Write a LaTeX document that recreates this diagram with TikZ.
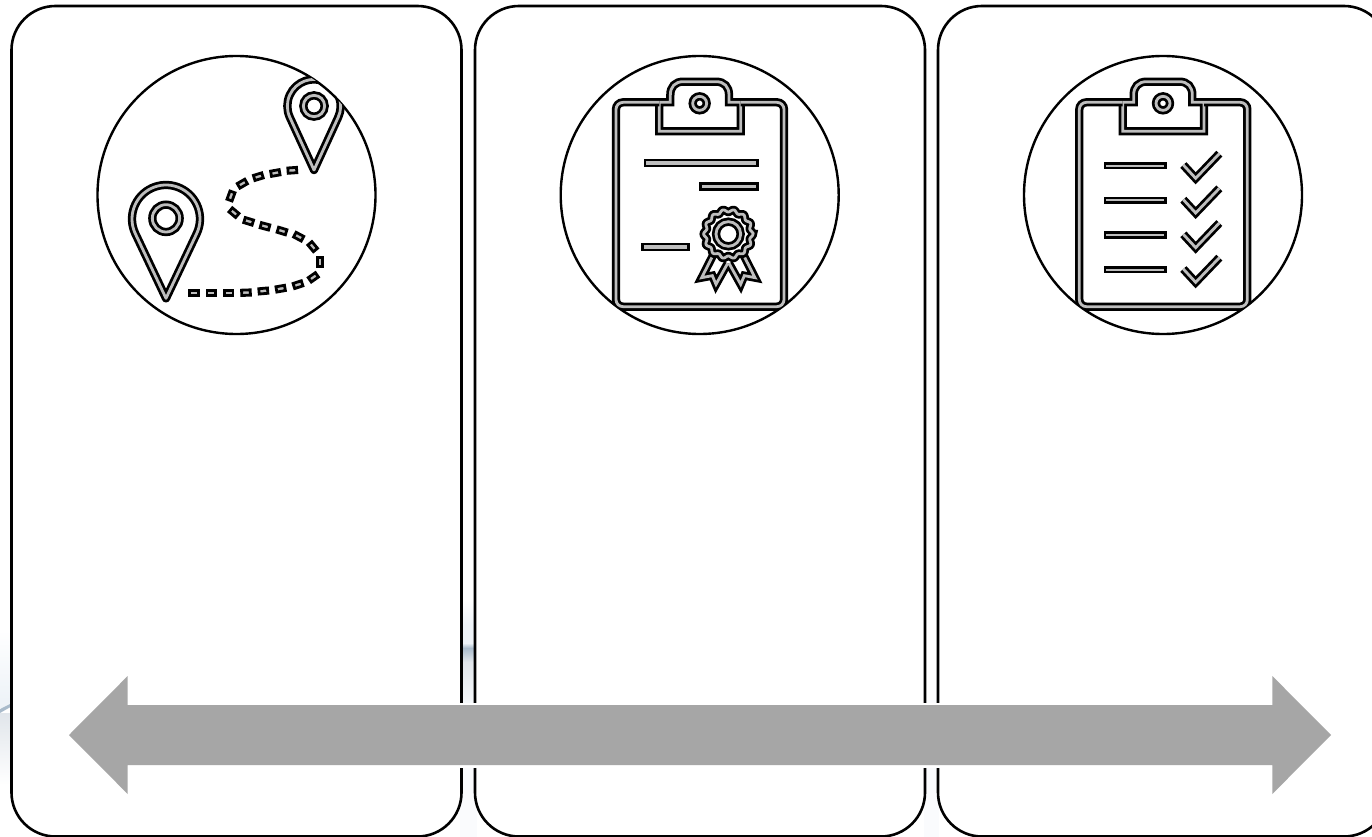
\documentclass[tikz,border=0pt]{standalone}
\definecolor{pingray}{HTML}{BEBEBE}
\definecolor{arrowgray}{HTML}{A6A6A6}
\definecolor{palebg}{HTML}{EEF3F8}
\definecolor{streak}{HTML}{A9BBCB}
\definecolor{midbg}{HTML}{E1E6EB}
\tikzset{
  panel/.style={draw=black,fill=white,line width=2.6pt,rounded corners=44pt},
  ring/.style={draw=black,fill=white,line width=2.4pt},
  icon/.style={draw=black,line width=2.75pt,double=pingray,double distance=2.8pt},
  bar/.style={draw=black,fill=pingray,line width=2.8pt},
  dot/.style={draw=black,fill=pingray,line width=2.8pt},
  zoomed/.style={x=0.33333pt,y=-0.33333pt}
}
\newcommand{\clipboardshape}{%
  \begin{scope}
    \clip (434,435) circle[radius=417];
    \draw[icon,rounded corners=0pt]
      (313,157) -- (346,157) -- (346,135) .. controls (346,110) and (360,95) .. (385,95)
      -- (483,95) .. controls (508,95) and (522,110) .. (522,135) -- (522,157) -- (557,157)
      -- (557,244) -- (313,244) -- cycle;
    \draw[icon,rounded corners=7pt]
      (313,157) -- (183,157) -- (183,770) -- (687,770) -- (687,157) -- (557,157);
  \end{scope}
  \draw[icon] (434,160) circle[radius=21];
}
\begin{document}
\begin{tikzpicture}[x=1pt,y=-1pt]
\useasboundingbox (0,0) rectangle (1372,837);
% pale backdrop
\fill[white] (0,0) rectangle (1372,837);
\shade[top color=white,bottom color=palebg] (0,630) rectangle (14,700);
\fill[palebg] (0,700) rectangle (14,708);
\fill[streak] (0,709) -- (14,702) -- (14,705) -- (0,713) -- cycle;
\shade[top color=midbg,bottom color=white] (0,713) rectangle (14,785);
\shade[top color=white,bottom color=palebg] (460,600) rectangle (477,625);
\fill[palebg] (460,625) rectangle (477,643);
\shade[top color=palebg,bottom color=streak] (460,643) rectangle (477,648);
\shade[top color=streak,bottom color=midbg] (460,648) rectangle (477,662);
\shade[top color=midbg,bottom color=palebg!50!white] (460,662) rectangle (477,704);
\fill[palebg!30!white] (460,765) rectangle (477,837);
\fill[palebg!30!white] (924,700) rectangle (939,837);
% panels
\draw[panel] (11.5,6) rectangle (461.5,836.5);
\draw[panel] (475,6) rectangle (925,836.5);
\draw[panel] (938,6) rectangle (1388,836.5);
% circles
\node[ring,circle,minimum size=278pt,inner sep=0pt] (c1) at (236.5,195) {};
\node[ring,circle,minimum size=278pt,inner sep=0pt] (c2) at (699.7,195) {};
\node[ring,circle,minimum size=278pt,inner sep=0pt] (c3) at (1163,195) {};

% map icon
\begin{scope}[shift={(90,50)},zoomed]
  \begin{scope}
    \clip (439,435) circle[radius=417];
    \draw[icon,line join=round] (228,745) -- (320.1,550.7) arc[start angle=25.4,end angle=-205.4,radius=102] -- cycle;
    \draw[icon,line join=round] (672,360) -- (744.5,202) arc[start angle=25,end angle=-205,radius=80] -- cycle;
  \end{scope}
  \draw[icon] (228,505) circle[radius=41];
  \draw[icon] (672,168) circle[radius=32];
  \foreach \px/\py/\ang in {312/729/0,364/729/0,416/729/0,468/728/2,520/723/5,572/716/10,624/704/18,
      670/682/35,690/636/90,668/590/-50,626/560/-28,576/543/-17,525/529/-15,476/514/-17,432/488/-40,
      423/438/70,457/401/30,505/380/17,556/369/10,607/361/4}
    \draw[dot,shift={(\px,\py)},rotate=\ang] (-13,-8) rectangle (13,8);
\end{scope}

% certificate icon
\begin{scope}[shift={(555,50)},zoomed]
  \clipboardshape
  \draw[bar] (270,330) rectangle (608,348);
  \draw[bar] (436,400) rectangle (608,418);
  \draw[bar] (262,582) rectangle (400,600);
  \draw[icon,line join=miter]
    (473,618) -- (440,683) -- (472,677) -- (483,703) -- (518,640)
    (567,618) -- (600,683) -- (568,677) -- (557,703) -- (522,640);
  \draw[icon,fill=white,smooth,samples=169,domain=0:360]
    plot ({520+70*cos(\x)+4*cos(14*\x)*cos(\x)},{552+70*sin(\x)+4*cos(14*\x)*sin(\x)}) -- cycle;
  \draw[icon,fill=white] (520,552) circle[radius=37];
\end{scope}

% checklist icon
\begin{scope}[shift={(1018.33,50)},zoomed]
  \clipboardshape
  \foreach \dy in {0,104,208,312}{
    \draw[bar,yshift=-\dy*0.33333pt] (260,340) rectangle (442,354);
    \draw[icon,yshift=-\dy*0.33333pt] (495,345) -- (532,385) -- (603,311);
  }
\end{scope}

% double arrow
\path[draw=white,line width=5pt,fill=white]
  (127.7,705) rectangle (1272.3,765);
\fill[arrowgray] (69,735) -- (127.7,676) -- (127.7,705) -- (1272.3,705)
  -- (1272.3,676) -- (1331,735) -- (1272.3,794) -- (1272.3,765) -- (127.7,765) -- (127.7,794) -- cycle;
\end{tikzpicture}
\end{document}
